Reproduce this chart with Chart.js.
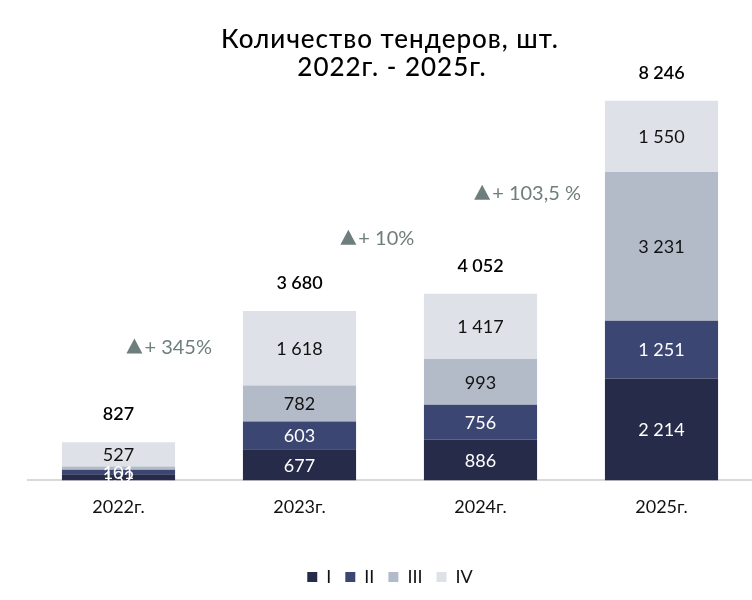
<!DOCTYPE html>
<html>
<head>
<meta charset="utf-8">
<script src="https://cdn.jsdelivr.net/npm/chart.js@4.4.1/dist/chart.umd.min.js"></script>
<style>
  body { margin: 0; background: #fff; }
  #wrap { width: 752px; height: 600px; position: relative; }
</style>
</head>
<body>
<div id="wrap"><canvas id="tenderChart"></canvas></div>
<script>
// data
const years = ['2022г.', '2023г.', '2024г.', '2025г.'];
const q1 = [132, 677, 886, 2214];
const q2 = [101, 603, 756, 1251];
const q3 = [67, 782, 993, 3231];
const q4 = [527, 1618, 1417, 1550];
const totals = [827, 3680, 4052, 8246];
const growthLabels = ['+ 345%', '+ 10%', '+ 103,5 %'];

const quarterNames = ['I', 'II', 'III', 'IV'];
const colors = ['#272b4a', '#3c4672', '#b4bbc8', '#dee1e7'];
const labelColors = ['#ffffff', '#ffffff', '#111111', '#111111'];

const FONT = 'Lato';

function fmt(n) {
  return String(n).replace(/\B(?=(\d{3})+(?!\d))/g, ' ');
}

// labels inside the bars, totals on top, growth arrows, title
const overlayPlugin = {
  id: 'overlay',
  afterDatasetsDraw(chart) {
    const ctx = chart.ctx;
    ctx.save();
    ctx.textAlign = 'center';
    ctx.textBaseline = 'middle';

    chart.data.datasets.forEach(function(ds, di) {
      const meta = chart.getDatasetMeta(di);
      meta.data.forEach(function(bar, i) {
        const v = ds.data[i];
        if (v < 100) return;
        ctx.font = '18px ' + FONT;
        ctx.fillStyle = labelColors[di];
        ctx.fillText(fmt(v), bar.x, (bar.y + bar.base) / 2 + 1);
      });
    });

    // totals
    const top = chart.getDatasetMeta(3);
    ctx.font = '600 18px ' + FONT;
    ctx.fillStyle = '#000';
    top.data.forEach(function(bar, i) {
      ctx.fillText(fmt(totals[i]), bar.x, bar.y - 28);
    });

    // growth annotations between the bars
    const xs = chart.scales.x;
    const ys = chart.scales.y;
    const anchor = [
      { at: 0.28, v: 2907 },
      { at: 1.43, v: 5271 },
      { at: 2.26, v: 6247 }
    ];
    ctx.fillStyle = '#6e7e7d';
    ctx.font = '20px ' + FONT;
    anchor.forEach(function(a, i) {
      const x = xs.getPixelForValue(a.at);
      const y = ys.getPixelForValue(a.v);
      const txt = growthLabels[i];
      const w = ctx.measureText(txt).width;
      const tri = 16;
      const startX = x - (w + tri + 2) / 2;
      ctx.beginPath();
      ctx.moveTo(startX, y + 7);
      ctx.lineTo(startX + tri / 2, y - 8);
      ctx.lineTo(startX + tri, y + 7);
      ctx.closePath();
      ctx.fill();
      ctx.textAlign = 'left';
      ctx.fillText(txt, startX + tri + 2, y + 1);
    });

    // title
    ctx.textAlign = 'center';
    ctx.fillStyle = '#000';
    ctx.font = '500 26px ' + FONT;
    ctx.letterSpacing = '1px';
    ctx.fillText('Количество тендеров, шт.', 390, 40);
    ctx.fillText('2022г. - 2025г.', 392, 68);
    ctx.restore();
  }
};

const datasets = [q1, q2, q3, q4].map(function(arr, i) {
  return {
    label: quarterNames[i],
    data: arr,
    backgroundColor: colors[i],
    borderWidth: 0,
    categoryPercentage: 1,
    barPercentage: 0.625
  };
});

new Chart(document.getElementById('tenderChart'), {
  type: 'bar',
  data: { labels: years, datasets: datasets },
  options: {
    responsive: true,
    maintainAspectRatio: false,
    animation: false,
    layout: { padding: { top: 20, left: 28, right: 0, bottom: 4 } },
    scales: {
      x: {
        stacked: true,
        grid: { display: false, drawTicks: false },
        border: { color: '#d9d9d9', width: 2 },
        ticks: { color: '#111', font: { family: FONT, size: 18 }, padding: 16 },
        afterFit(scale) { scale.height += 20; }
      },
      y: {
        stacked: true,
        display: false,
        min: 0,
        max: 10000
      }
    },
    plugins: {
      legend: {
        position: 'bottom',
        labels: {
          boxWidth: 10,
          boxHeight: 10,
          padding: 14,
          color: '#111',
          font: { family: FONT, size: 18 }
        }
      },
      tooltip: { enabled: false }
    }
  },
  plugins: [overlayPlugin]
});
</script>
</body>
</html>
